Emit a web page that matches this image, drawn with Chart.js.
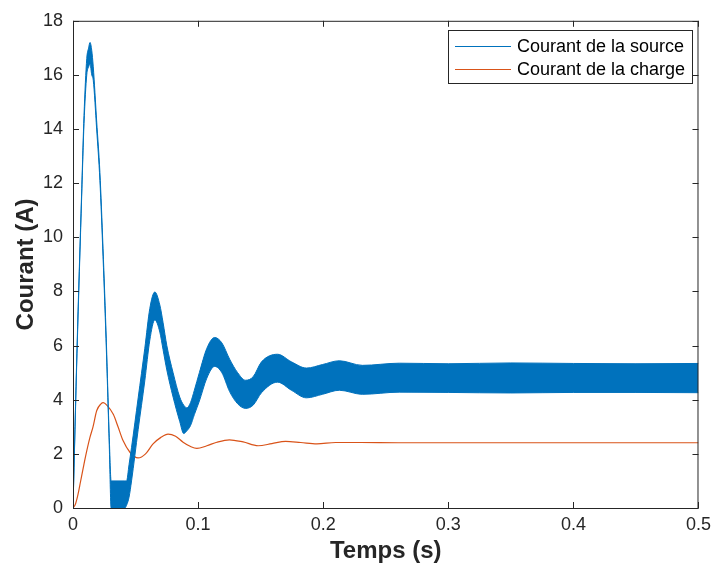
<!DOCTYPE html>
<html>
<head>
<meta charset="utf-8">
<script src="https://cdn.jsdelivr.net/npm/chart.js@4.4.1/dist/chart.umd.min.js"></script>
<style>
  html, body { margin: 0; padding: 0; background: #fff; }
  #wrap { width: 717px; height: 574px; }
</style>
</head>
<body>
<div id="wrap"><canvas id="chart"></canvas></div>
<script>
// Source current: high-frequency ripple is shown as an envelope (upper / lower)
const timeSource = [0, 0.0032, 0.007, 0.0088, 0.011, 0.0125, 0.0136, 0.015, 0.0162, 0.0189, 0.0215, 0.024, 0.0267, 0.029,
  0.0305, 0.0415, 0.0428, 0.0448, 0.0468, 0.0521, 0.0574, 0.0614, 0.0654, 0.0694, 0.072, 0.075, 0.080, 0.0853, 0.0885,
  0.091, 0.094, 0.097, 0.101, 0.107, 0.1132, 0.119, 0.1252, 0.1316, 0.138, 0.144, 0.1507, 0.1635, 0.1746, 0.1866,
  0.1994, 0.2129, 0.2313, 0.2608, 0.30, 0.35, 0.40, 0.45, 0.50];
const sourceUpper = [0, 5.9, 11.8, 14.5, 16.6, 17.0, 17.2, 16.9, 16.3, 14.3, 12.4, 9.6, 6.1, 2.6,
  1.0, 1.0, 1.0, 1.6, 2.24, 4.07, 5.9, 7.37, 7.98, 7.5, 6.85, 6.0, 5.0, 4.1, 3.8,
  3.7, 3.9, 4.35, 5.0, 5.9, 6.3, 6.1, 5.5, 5.0, 4.72, 4.85, 5.4, 5.68, 5.4, 5.17,
  5.3, 5.44, 5.27, 5.35, 5.33, 5.36, 5.34, 5.33, 5.34];
const sourceLower = [0, 5.7, 11.6, 14.2, 16.0, 16.3, 16.4, 16.0, 15.8, 14.0, 12.1, 9.3, 5.8, 2.3,
  0, 0, 0.1, 0.4, 1.0, 2.9, 4.7, 6.2, 6.95, 6.5, 5.85, 5.1, 4.1, 3.2, 2.75,
  2.85, 3.05, 3.45, 3.95, 4.8, 5.23, 5.0, 4.3, 3.85, 3.68, 3.8, 4.26, 4.65, 4.35, 4.07,
  4.2, 4.35, 4.2, 4.28, 4.27, 4.25, 4.27, 4.27, 4.26];

// Load current
const timeLoad = [0, 0.002, 0.004, 0.006, 0.0083, 0.010, 0.0135, 0.016, 0.019, 0.0224, 0.0242, 0.027, 0.0322, 0.036,
  0.040, 0.0455, 0.052, 0.058, 0.064, 0.070, 0.076, 0.082, 0.088, 0.094, 0.099, 0.107, 0.115, 0.125, 0.136, 0.148,
  0.159, 0.170, 0.182, 0.195, 0.21, 0.23, 0.26, 0.30, 0.35, 0.40, 0.45, 0.50];
const loadCurrent = [0, 0.15, 0.5, 0.97, 1.51, 1.9, 2.6, 3.0, 3.6, 3.85, 3.89, 3.8, 3.46, 3.0,
  2.49, 2.06, 1.85, 2.0, 2.37, 2.6, 2.73, 2.65, 2.43, 2.27, 2.2, 2.3, 2.43, 2.52, 2.44, 2.3,
  2.38, 2.46, 2.42, 2.37, 2.42, 2.42, 2.41, 2.41, 2.41, 2.41, 2.41, 2.41];

const xTicks = [0, 0.1, 0.2, 0.3, 0.4, 0.5];
const yTicks = [0, 2, 4, 6, 8, 10, 12, 14, 16, 18];

const seriesLabels = ['Courant de la source', 'Courant de la charge'];
const blue = '#0072BD';
const orange = '#D95319';
const axisColor = '#262626';
const fontFamily = '"Liberation Sans", Arial, Helvetica, sans-serif';

const toPoints = (xs, ys) => xs.map((x, i) => ({ x: x, y: ys[i] }));

// MATLAB-like box with inward ticks on all four sides
const boxPlugin = {
  id: 'box',
  afterDraw(chart) {
    const { ctx, chartArea: a, scales } = chart;
    const len = 6;
    ctx.save();
    ctx.strokeStyle = axisColor;
    ctx.lineWidth = 1;
    ctx.strokeRect(a.left + 0.5, a.top + 0.5, a.right - a.left - 1, a.bottom - a.top);
    ctx.beginPath();
    xTicks.forEach(v => {
      const px = Math.round(scales.x.getPixelForValue(v)) + 0.5;
      ctx.moveTo(px, a.bottom); ctx.lineTo(px, a.bottom - len);
      ctx.moveTo(px, a.top); ctx.lineTo(px, a.top + len);
    });
    yTicks.forEach(v => {
      const py = Math.round(scales.y.getPixelForValue(v)) + 0.5;
      ctx.moveTo(a.left, py); ctx.lineTo(a.left + len, py);
      ctx.moveTo(a.right, py); ctx.lineTo(a.right - len, py);
    });
    ctx.stroke();
    ctx.restore();
  }
};

// Legend box in the upper right corner of the plot
const legendPlugin = {
  id: 'boxLegend',
  afterDatasetsDraw(chart) {
    const { ctx } = chart;
    const x = 448, y = 30, w = 244, h = 53;
    ctx.save();
    ctx.fillStyle = '#fff';
    ctx.fillRect(x, y, w, h);
    ctx.strokeStyle = axisColor;
    ctx.lineWidth = 1;
    ctx.strokeRect(x + 0.5, y + 0.5, w, h);
    const rows = [{ label: seriesLabels[0], color: blue, cy: 46 }, { label: seriesLabels[1], color: orange, cy: 69 }];
    ctx.font = '18px ' + fontFamily;
    ctx.textBaseline = 'middle';
    rows.forEach(r => {
      ctx.strokeStyle = r.color;
      ctx.beginPath();
      ctx.moveTo(455, r.cy + 0.5);
      ctx.lineTo(511, r.cy + 0.5);
      ctx.stroke();
      ctx.fillStyle = '#000';
      ctx.fillText(r.label, 517, r.cy + 1);
    });
    ctx.restore();
  }
};

new Chart(document.getElementById('chart'), {
  type: 'line',
  data: {
    datasets: [
      {
        label: 'lower',
        data: toPoints(timeSource, sourceLower),
        borderColor: blue,
        borderWidth: 1,
        pointRadius: 0,
        cubicInterpolationMode: 'monotone',
        fill: false
      },
      {
        label: seriesLabels[0],
        data: toPoints(timeSource, sourceUpper),
        borderColor: blue,
        backgroundColor: blue,
        borderWidth: 1,
        pointRadius: 0,
        cubicInterpolationMode: 'monotone',
        fill: '-1'
      },
      {
        label: seriesLabels[1],
        data: toPoints(timeLoad, loadCurrent),
        borderColor: orange,
        borderWidth: 1.2,
        pointRadius: 0,
        cubicInterpolationMode: 'monotone',
        fill: false
      }
    ]
  },
  options: {
    responsive: true,
    maintainAspectRatio: false,
    animation: false,
    layout: { padding: { top: 16, right: 17, left: 0, bottom: 0 } },
    plugins: {
      legend: { display: false },
      tooltip: { enabled: false }
    },
    scales: {
      x: {
        type: 'linear',
        min: 0,
        max: 0.5,
        afterFit: scale => { scale.height = 66; },
        afterBuildTicks: scale => { scale.ticks = xTicks.map(v => ({ value: v })); },
        grid: { display: false, drawTicks: false },
        border: { display: false },
        ticks: {
          color: axisColor,
          padding: 6,
          maxRotation: 0,
          font: { family: fontFamily, size: 18 },
          callback: v => String(v)
        },
        title: {
          display: true,
          text: 'Temps (s)',
          color: axisColor,
          padding: { top: 0, bottom: 8 },
          font: { family: fontFamily, size: 24, weight: 'bold' }
        }
      },
      y: {
        min: 0,
        max: 18,
        afterFit: scale => { scale.width = 73; },
        afterBuildTicks: scale => { scale.ticks = yTicks.map(v => ({ value: v })); },
        grid: { display: false, drawTicks: false },
        border: { display: false },
        ticks: {
          color: axisColor,
          padding: 10,
          font: { family: fontFamily, size: 18 }
        },
        title: {
          display: true,
          text: 'Courant (A)',
          color: axisColor,
          padding: { top: 12, bottom: 0 },
          font: { family: fontFamily, size: 24, weight: 'bold' }
        }
      }
    }
  },
  plugins: [boxPlugin, legendPlugin]
});
</script>
</body>
</html>
